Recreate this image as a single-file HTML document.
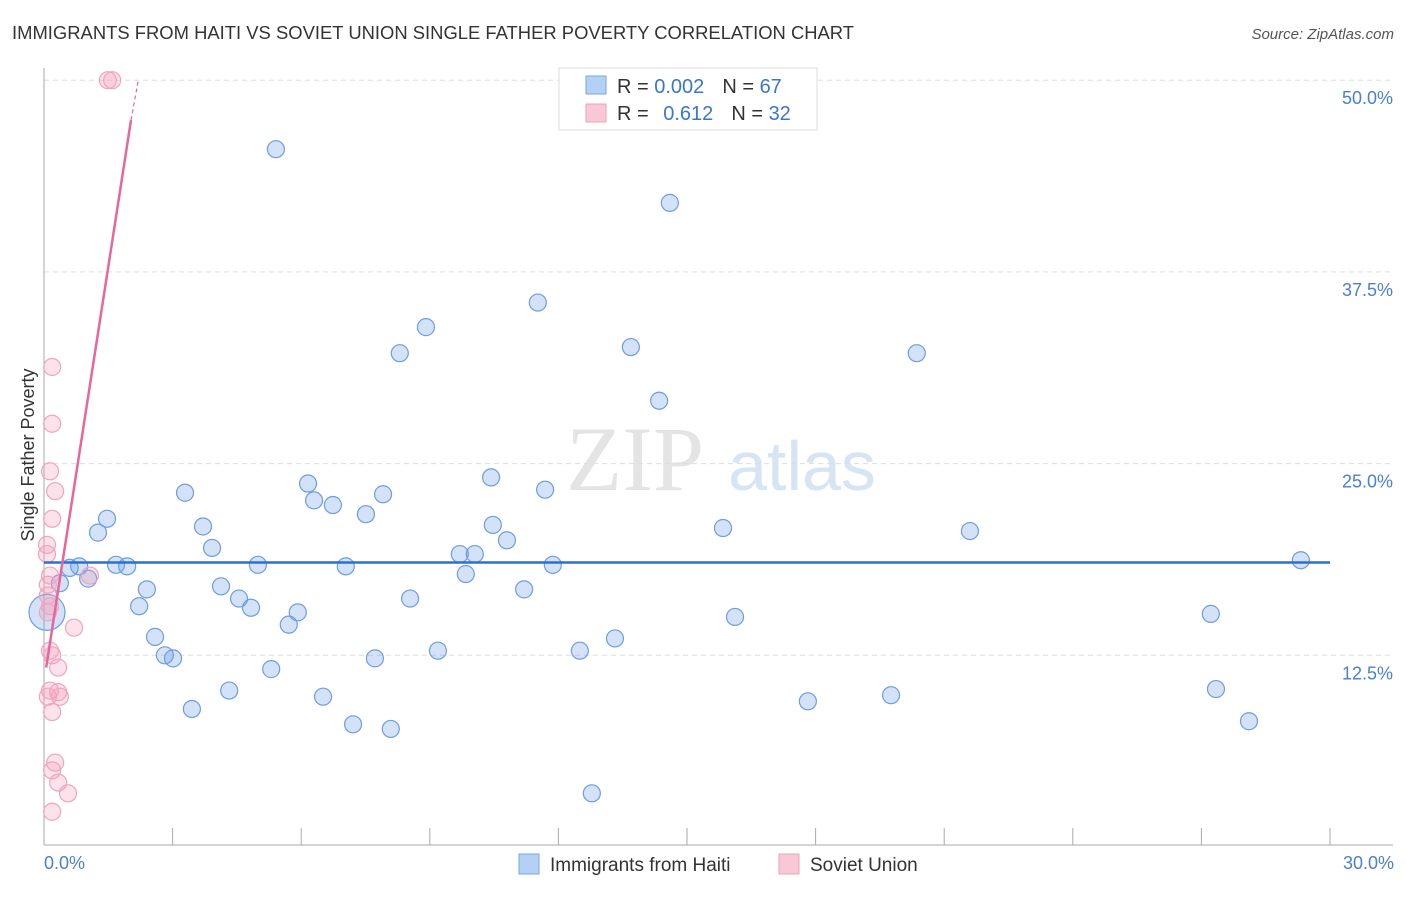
<!DOCTYPE html>
<html><head><meta charset="utf-8"><style>
body{margin:0;background:#fff;font-family:"Liberation Sans",sans-serif;}
#wrap{position:relative;width:1406px;height:892px;}
</style></head><body><div id="wrap">
<svg id="chart" width="1406" height="892" xmlns="http://www.w3.org/2000/svg">
<text x="12" y="39" font-size="18.4" fill="#333" textLength="842">IMMIGRANTS FROM HAITI VS SOVIET UNION SINGLE FATHER POVERTY CORRELATION CHART</text>
<text x="1394" y="39" font-size="15" fill="#555" font-style="italic" text-anchor="end">Source: ZipAtlas.com</text>
<text x="635" y="490" font-size="92" fill="#e4e4e4" font-family="Liberation Serif,serif" text-anchor="middle">ZIP</text>
<text x="802" y="490" font-size="70" fill="#d6e4f5" text-anchor="middle">atlas</text>
<g id="grid"></g><g id="axes"></g><g id="pts"></g><g id="trend"></g>
<text transform="translate(34,455) rotate(-90)" font-size="18" fill="#333" text-anchor="middle">Single Father Poverty</text>
<text x="44" y="869" font-size="18" fill="#4a7fd4">0.0%</text>
<text x="1394" y="869" font-size="18" fill="#4a7fd4" text-anchor="end">30.0%</text>
<g>
<rect x="559" y="68" width="258" height="62" fill="#fff" stroke="#ddd"/>
<rect x="586" y="76" width="20" height="18" fill="#b5d0f5" stroke="#7aa6e6"/>
<rect x="586" y="104" width="20" height="18" fill="#f9c8d6" stroke="#eea0b9"/>
<text x="617" y="93" font-size="20" fill="#333">R = <tspan fill="#3a76d0">0.002</tspan><tspan dx="18">N = </tspan><tspan fill="#3a76d0">67</tspan></text>
<text x="617" y="120" font-size="20" fill="#333">R = <tspan dx="9" fill="#3a76d0">0.612</tspan><tspan dx="18">N = </tspan><tspan fill="#3a76d0">32</tspan></text>
</g>
<g><rect x="519" y="854" width="20" height="20" fill="#b5d0f5" stroke="#7aa6e6"/><text x="550" y="871" font-size="19" fill="#333">Immigrants from Haiti</text></g>
<g><rect x="779" y="854" width="20" height="20" fill="#f9c8d6" stroke="#eea0b9"/><text x="810" y="871" font-size="19" fill="#333">Soviet Union</text></g>
</svg></div>
<script>
const yTicks=[12.5,25,37.5,50];
const yTickLabels=["12.5%","25.0%","37.5%","50.0%"];
const xTicks=[3,6,9,12,15,18,21,24,27,30];
const blueX=[5.41,14.6,11.52,8.91,8.3,13.69,20.36,14.35,10.43,11.69,3.29,6.16,6.3,6.74,7.91,7.51,3.71,10.47,10.8,15.84,21.6,1.26,1.47,3.92,9.7,10.05,9.84,11.87,4.99,7.04,1.68,1.94,0.82,1.03,0.37,2.4,4.13,11.2,4.55,8.54,4.83,2.22,5.92,5.71,16.12,27.22,29.32,2.59,13.32,9.19,12.5,2.82,3.01,7.72,5.3,4.32,6.51,27.34,19.76,17.82,3.45,7.21,8.09,28.11,12.78,0.6];
const blueY=[45.5,42.0,35.5,33.9,32.2,32.6,32.2,29.1,24.1,23.3,23.1,23.7,22.6,22.3,23.0,21.7,20.9,21.0,20.0,20.8,20.6,20.5,21.4,19.5,19.1,19.1,17.8,18.4,18.4,18.3,18.4,18.3,18.3,17.5,17.2,16.8,17.0,16.8,16.2,16.2,15.6,15.7,15.3,14.5,15.0,15.2,18.7,13.7,13.6,12.8,12.8,12.5,12.3,12.3,11.6,10.2,9.8,10.3,9.9,9.5,9.0,8.0,7.7,8.2,3.5,18.2];
const pinkX=[1.49,1.59,0.19,0.19,0.14,0.26,0.19,0.07,0.14,1.07,0.09,0.14,0.7,0.14,0.33,0.14,0.33,0.37,0.09,0.19,0.26,0.19,0.33,0.56,0.19,0.09,0.07,0.19,0.09];
const pinkY=[50,50,31.3,27.6,24.5,23.2,21.4,19.1,17.7,17.7,16.4,15.7,14.3,12.8,11.7,10.2,10.1,9.8,9.8,8.8,5.5,5.0,4.2,3.5,2.3,15.3,19.7,12.5,17.1];
const bigBlue=[0.07,15.3];
const blueTrend=[18.55,18.55];
const pinkTrendX=[0.05,2.03,2.2];
const pinkTrendY=[11.7,47.4,50];
const X0=44,X1=1330,Y0=847,PPY=15.336;
const sx=v=>X0+(X1-X0)*v/30, sy=v=>Y0-v*PPY;
const NS="http://www.w3.org/2000/svg";
function mk(parent,tag,attrs){const e=document.createElementNS(NS,tag);for(const k in attrs)e.setAttribute(k,attrs[k]);document.getElementById(parent).appendChild(e);return e;}
yTicks.forEach((t,i)=>{
 const l=mk('grid','line',{x1:44,x2:1393,y1:sy(t),y2:sy(t),stroke:'#ddd','stroke-dasharray':'5,4'});
 
 
 const tx=mk('grid','text',{x:1393,y:sy(t)+24,'font-size':18,fill:'#4a7fd4','text-anchor':'end'});
 tx.textContent=yTickLabels[i];
 
 
});
const ax=mk('axes','line',{x1:44,x2:44,y1:68,y2:845,stroke:'#aaa'});


const bx=mk('axes','line',{x1:44,x2:1393,y1:845,y2:845,stroke:'#aaa'});


xTicks.forEach(t=>{
 const l=mk('axes','line',{x1:sx(t),x2:sx(t),y1:828,y2:845,stroke:'#aaa'});
 
 
});
blueX.forEach((x,i)=>{
 const c=mk('pts','circle',{cx:sx(x),cy:sy(blueY[i]),r:8.5,fill:'rgba(110,160,230,0.3)',stroke:'#6d9de2','stroke-width':1.2});
 
 
});
const bb=mk('pts','circle',{cx:sx(bigBlue[0]),cy:sy(bigBlue[1]),r:18,fill:'rgba(110,160,230,0.3)',stroke:'#6d9de2','stroke-width':1.2});


pinkX.forEach((x,i)=>{
 const c=mk('pts','circle',{cx:sx(x),cy:sy(pinkY[i]),r:8.5,fill:'rgba(245,160,190,0.3)',stroke:'#f0a4bd','stroke-width':1.2});
 
 
});
const bt=mk('trend','line',{x1:sx(0),x2:sx(30),y1:sy(blueTrend[0]),y2:sy(blueTrend[1]),stroke:'#2d6fd0','stroke-width':2.5});


const pt=mk('trend','line',{x1:sx(pinkTrendX[0]),y1:sy(pinkTrendY[0]),x2:sx(pinkTrendX[1]),y2:sy(pinkTrendY[1]),stroke:'#e8669a','stroke-width':2.5});


const pd=mk('trend','line',{x1:sx(pinkTrendX[1]),y1:sy(pinkTrendY[1]),x2:sx(pinkTrendX[2]),y2:sy(pinkTrendY[2]),stroke:'#e8669a','stroke-width':1.2,'stroke-dasharray':'4,3'});


</script></body></html>
